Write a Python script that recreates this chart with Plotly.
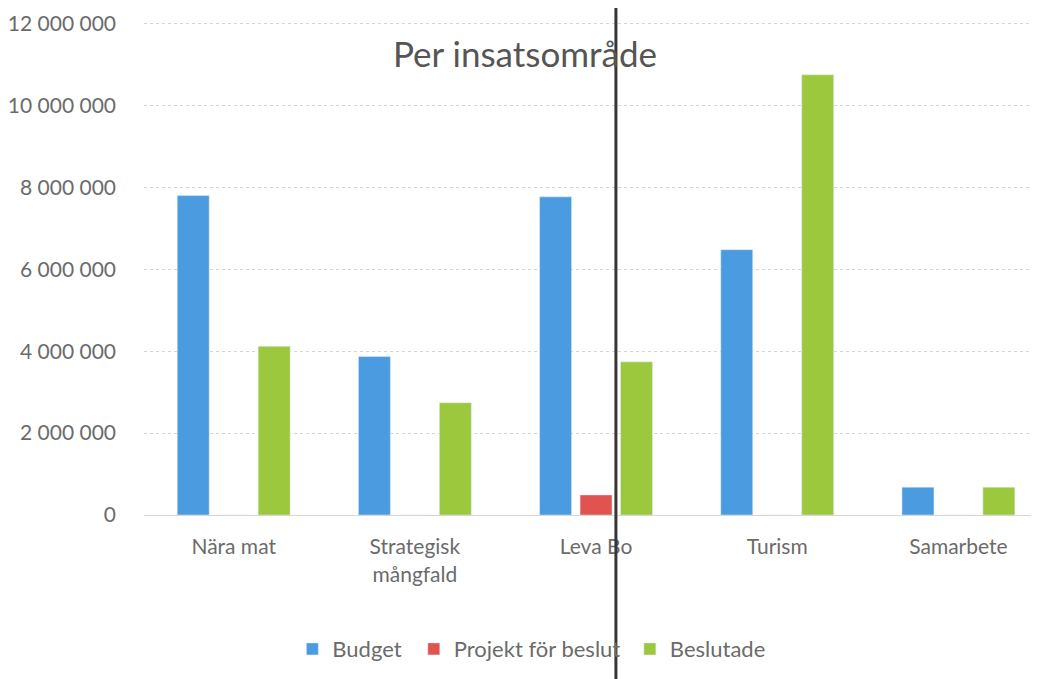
import plotly.graph_objects as go

categories = ["Nära mat", "Strategisk<br>mångfald", "Leva Bo", "Turism", "Samarbete"]
budget = [7800000, 3870000, 7770000, 6480000, 680000]
projekt = [0, 0, 490000, 0, 0]
beslutade = [4120000, 2740000, 3740000, 10750000, 680000]
tick_vals = [0, 2000000, 4000000, 6000000, 8000000, 10000000, 12000000]
tick_text = ["0", "2 000 000", "4 000 000", "6 000 000", "8 000 000", "10 000 000", "12 000 000"]

font_fam = "Lato, 'Open Sans', sans-serif"
gray = "#6b6b6b"

fig = go.Figure()
fig.add_trace(go.Bar(name="Budget", x=categories, y=budget, marker_color="#4A9BDF", legend="legend"))
fig.add_trace(go.Bar(name="Projekt för beslut", x=categories, y=projekt, marker_color="#E0534F", legend="legend2"))
fig.add_trace(go.Bar(name="Beslutade", x=categories, y=beslutade, marker_color="#9BC83C", legend="legend3"))

W, H = 1041, 671
PW = 909.0
def px(sx):
    return (sx - 140) / PW

leg = dict(orientation="h", xanchor="left", y=-0.272, yanchor="middle",
           font=dict(size=22, color=gray), itemwidth=30, bgcolor="rgba(0,0,0,0)")
fig.update_layout(
    width=W, height=H,
    barmode="group", bargap=0.33, bargroupgap=0.21,
    paper_bgcolor="white", plot_bgcolor="white",
    margin=dict(l=132, r=0, t=14, b=164),
    font=dict(family=font_fam, color=gray),
    title=dict(text="Per insatsområde", x=(525 - 8) / W, xanchor="center",
               y=1 - 47 / H, yanchor="middle", yref="container",
               font=dict(size=35, color="#555555", family=font_fam)),
    legend=dict(leg, x=px(306 - 17)),
    legend2=dict(leg, x=px(428 - 17)),
    legend3=dict(leg, x=px(645 - 17)),
    showlegend=True,
)
fig.update_yaxes(range=[0, 12040000], tickvals=tick_vals, ticktext=tick_text,
                 showgrid=True, gridcolor="#d6d6d6", griddash="dot", gridwidth=1,
                 zeroline=False, showline=False, ticks="",
                 tickfont=dict(size=21, color=gray), ticklabelstandoff=27)
fig.update_xaxes(range=[-0.495, 4.5], showline=True, linecolor="#d6d6d6", linewidth=1, ticks="",
                 tickfont=dict(size=21, color=gray), ticklabelstandoff=13)

# scan artifact: dark vertical line
fig.add_shape(type="line", xref="paper", yref="paper",
              x0=px(614), x1=px(614), y0=-0.4, y1=1.1,
              line=dict(color="#3a3535", width=3))

fig.write_html("out.html")
